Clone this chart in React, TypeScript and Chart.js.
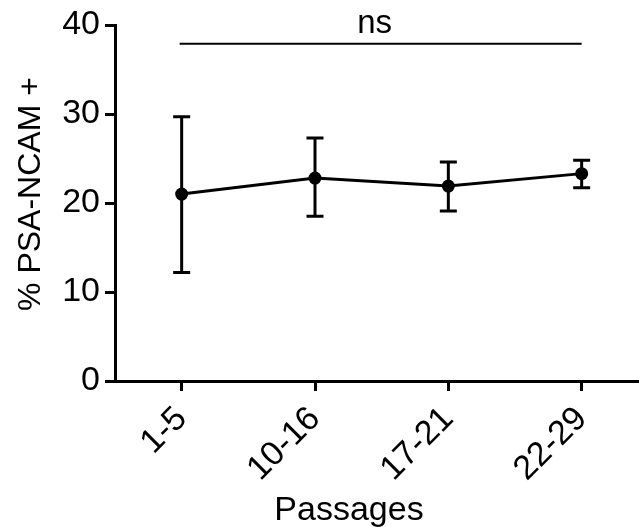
import React, { useEffect, useRef } from 'react';
import { Chart, registerables } from 'chart.js';

Chart.register(...registerables);

const categories = ['1-5', '10-16', '17-21', '22-29'];
const means = [21.0, 22.8, 21.9, 23.3];
const upper = [29.7, 27.3, 24.6, 24.8];
const lower = [12.2, 18.5, 19.1, 21.7];
const yTicks = [0, 10, 20, 30, 40];
const yTitle = '% PSA-NCAM +';
const xTitle = 'Passages';
const sigLabel = 'ns';
const sigFrom = 0;
const sigTo = 3;
const sigY = 37.9;

const FONT = "'Liberation Sans', Arial, Helvetica, sans-serif";

const annotations = {
  id: 'annotations',
  beforeDatasetsDraw(chart: any) {
    const { ctx, scales } = chart;
    const x = scales.x;
    const y = scales.y;
    ctx.save();
    ctx.strokeStyle = '#000';
    ctx.lineWidth = 3;
    means.forEach((_, i) => {
      const px = x.getPixelForValue(i);
      const top = y.getPixelForValue(upper[i]);
      const bot = y.getPixelForValue(lower[i]);
      ctx.beginPath();
      ctx.moveTo(px, top);
      ctx.lineTo(px, bot);
      ctx.moveTo(px - 8.5, top);
      ctx.lineTo(px + 8.5, top);
      ctx.moveTo(px - 8.5, bot);
      ctx.lineTo(px + 8.5, bot);
      ctx.stroke();
    });
    ctx.restore();
  },
  afterDraw(chart: any) {
    const { ctx, scales, chartArea } = chart;
    const x = scales.x;
    const y = scales.y;
    ctx.save();
    const x1 = x.getPixelForValue(sigFrom) - 2;
    const x2 = x.getPixelForValue(sigTo);
    const yy = y.getPixelForValue(sigY);
    ctx.strokeStyle = '#000';
    ctx.lineWidth = 2;
    ctx.beginPath();
    ctx.moveTo(x1, yy);
    ctx.lineTo(x2, yy);
    ctx.stroke();
    ctx.fillStyle = '#000';
    ctx.font = `33px ${FONT}`;
    ctx.textAlign = 'center';
    ctx.textBaseline = 'alphabetic';
    ctx.fillText(sigLabel, (x1 + x2) / 2 - 6, yy - 11);
    ctx.font = `34px ${FONT}`;
    ctx.fillText(xTitle, chartArea.left + 234, 520);
    ctx.font = `32px ${FONT}`;
    ctx.translate(40, (chartArea.top + chartArea.bottom) / 2 - 9);
    ctx.rotate(-Math.PI / 2);
    ctx.fillText(yTitle, 0, 0);
    ctx.restore();
  },
};

export default function App() {
  const ref = useRef<HTMLCanvasElement | null>(null);

  useEffect(() => {
    document.body.style.margin = '0';
    if (!ref.current) return;
    const chart = new Chart(ref.current, {
      type: 'line',
      data: {
        datasets: [
          {
            data: means.map((m, i) => ({ x: i, y: m })),
            borderColor: '#000',
            backgroundColor: '#000',
            borderWidth: 3,
            pointRadius: 6.5,
            pointBackgroundColor: '#000',
            pointBorderWidth: 0,
            tension: 0,
            clip: false as any,
          },
        ],
      },
      options: {
        animation: false,
        responsive: true,
        maintainAspectRatio: false,
        layout: { autoPadding: false, padding: { top: 25, right: 0, left: 0, bottom: 0 } },
        plugins: { legend: { display: false }, tooltip: { enabled: false } },
        scales: {
          x: {
            type: 'linear',
            min: -0.5,
            max: 3.43,
            afterBuildTicks: (s: any) => {
              s.ticks = categories.map((_, i) => ({ value: i }));
            },
            afterFit: (s: any) => {
              s.height = 146;
              s.paddingLeft = 0;
              s.paddingRight = 0;
            },
            ticks: {
              callback: (_v: any, i: number) => categories[i],
              font: { size: 34, family: FONT },
              color: '#000',
              maxRotation: 45,
              minRotation: 45,
              autoSkip: false,
              padding: 8,
            },
            grid: {
              drawOnChartArea: false,
              drawTicks: true,
              tickLength: 10,
              tickWidth: 3,
              tickColor: '#000',
            },
            border: { display: true, width: 3, color: '#000' },
          },
          y: {
            type: 'linear',
            min: 0,
            max: 40,
            afterBuildTicks: (s: any) => {
              s.ticks = yTicks.map((v) => ({ value: v }));
            },
            afterFit: (s: any) => {
              s.width = 115;
              s.paddingTop = 0;
              s.paddingBottom = 0;
            },
            ticks: {
              font: { size: 34, family: FONT },
              color: '#000',
              padding: 5,
            },
            grid: {
              drawOnChartArea: false,
              drawTicks: true,
              tickLength: 10,
              tickWidth: 3,
              tickColor: '#000',
            },
            border: { display: true, width: 3, color: '#000' },
          },
        },
      },
      plugins: [annotations],
    });
    return () => chart.destroy();
  }, []);

  return (
    <div style={{ width: 639, height: 527, position: 'relative' }}>
      <canvas ref={ref} />
    </div>
  );
}
